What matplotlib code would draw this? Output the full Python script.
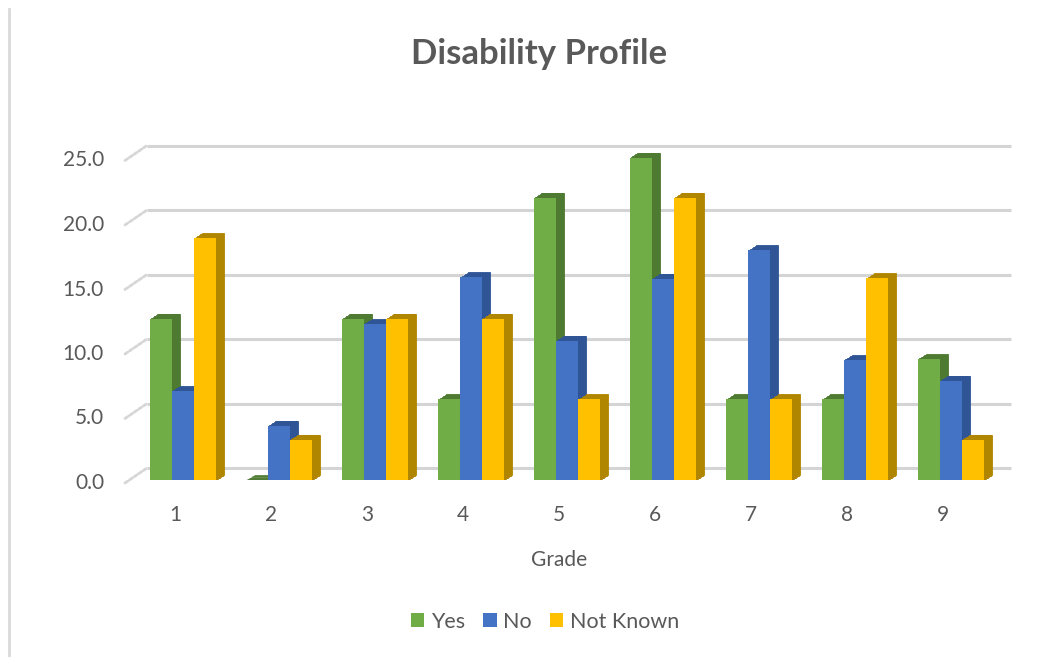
import matplotlib.pyplot as plt
from matplotlib.transforms import ScaledTranslation
from matplotlib.patches import Patch
from matplotlib.lines import Line2D

plt.rcParams['font.family'] = ['Lato', 'DejaVu Sans']

grades = ['1', '2', '3', '4', '5', '6', '7', '8', '9']
yes = [12.5, 0.0, 12.5, 6.25, 21.875, 25.0, 6.25, 6.25, 9.375]
no = [6.9, 4.2, 12.1, 15.7, 10.8, 15.6, 17.8, 9.3, 7.7]
not_known = [18.75, 3.125, 12.5, 12.5, 6.25, 21.875, 6.25, 15.625, 3.125]
series_names = ['Yes', 'No', 'Not Known']
yticks = [0, 5, 10, 15, 20, 25]

faces = ['#70AD47', '#4472C4', '#FFC000']
sides = ['#4E7A31', '#2F5597', '#B08500']
txt = '#595959'

fig = plt.figure(figsize=(10.64, 6.57), dpi=100)
W, H = 1064, 657
ax = fig.add_axes([135 / W, 1 - 480 / H, 864 / W, (480 - 157.5) / H])
ax.set_xlim(0.5, len(grades) + 0.5)
ax.set_ylim(0, 25)
ax.axis('off')


def shift(dx, dy):
    # pixel offset in display space
    return ax.transData + ScaledTranslation(dx / 100, dy / 100, fig.dpi_scale_trans)


back = (12, 12)
front = (-10, -3)

# gridlines on the back wall + short diagonals to the front
for v in yticks:
    ax.plot([0.5, len(grades) + 0.5], [v, v], color='#D4D4D4', lw=2.2,
            transform=shift(*back), zorder=0, solid_capstyle='butt', clip_on=False)
    ax.annotate('', xy=(0.5, v), xycoords=shift(*back),
                xytext=(0.5, v), textcoords=shift(*front),
                arrowprops=dict(arrowstyle='-', color='#D6D6D6', lw=2,
                                linestyle=(0, (1.2, 0.8)), shrinkA=0, shrinkB=0),
                annotation_clip=False)
    ax.text(0.5, v, f'{v:.1f}', transform=shift(front[0] - 21, front[1]),
            ha='right', va='center', fontsize=15, color=txt)

x = list(range(1, len(grades) + 1))
w = 0.226
depth_x, depth_y = 8, 5
steps = 8
for k, vals in enumerate([yes, no, not_known]):
    pos = [xi + (k - 1) * w for xi in x]
    for s in range(steps, 0, -1):
        ax.bar(pos, vals, width=w, color=sides[k], edgecolor=sides[k], lw=0.6,
               transform=shift(depth_x * s / steps, depth_y * s / steps), zorder=2,
               clip_on=False)
    ax.bar(pos, vals, width=w, color=faces[k], lw=0, zorder=3, clip_on=False)

for xi, g in zip(x, grades):
    ax.text(xi, 0, g, transform=shift(-8, -35), ha='center', va='center',
            fontsize=15, color=txt)

ax.text((len(grades) + 1) / 2, 0, 'Grade', transform=shift(-8, -80),
        ha='center', va='center', fontsize=15, color=txt)

fig.text(539 / W, 1 - 54 / H, 'Disability Profile', ha='center', va='center',
         fontsize=25, fontweight='bold', color=txt)

handles = [Patch(facecolor=c, edgecolor='none') for c in faces]
fig.legend(handles, series_names, loc='center', bbox_to_anchor=(545 / W, 1 - 622 / H),
           ncol=3, frameon=False, fontsize=15.5, labelcolor=txt,
           handlelength=0.62, handleheight=0.62, handletextpad=0.3, columnspacing=0.85)

# left border of chart area
fig.add_artist(Line2D([8.5 / W, 8.5 / W], [0, 1 - 9 / H], color='#D9D9D9', lw=2))

fig.savefig('out.png', dpi=100)
